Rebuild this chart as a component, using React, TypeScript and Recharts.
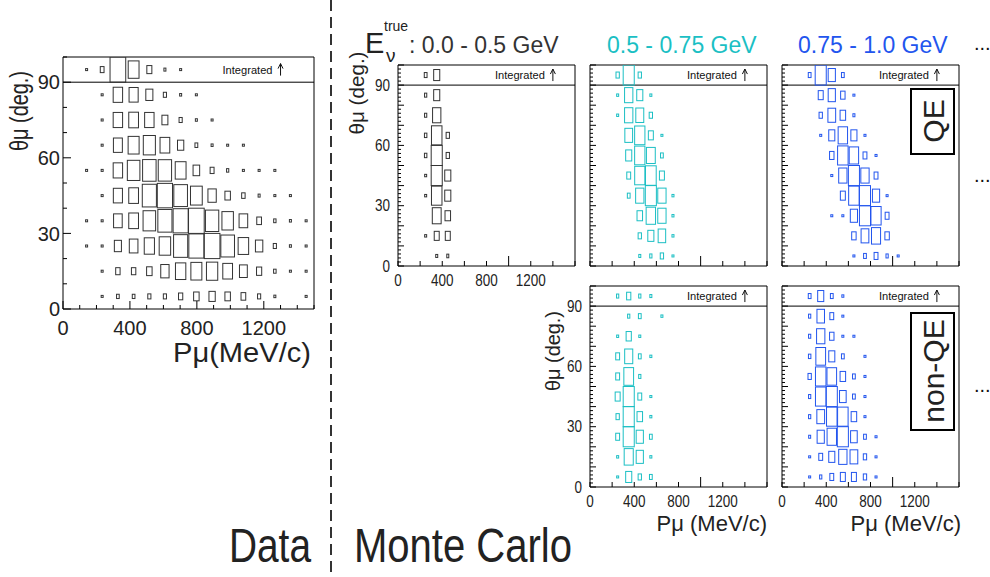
import React from "react";
import { ScatterChart, Scatter, XAxis, YAxis, ReferenceLine, ReferenceArea, ReferenceDot } from "recharts";

const FONT = '"Liberation Sans", Arial, Helvetica, sans-serif';
const BLACK = "#333";
const CYAN = "#1bbfc4";
const BLUE = "#2255ee";

// momentum bin centres (MeV/c)
const dataMomentum = [47, 141, 234, 328, 422, 516, 609, 703, 797, 891, 984, 1078, 1172, 1266, 1359, 1453];
const mcMomentum = [50, 150, 250, 350, 450, 550, 650, 750, 850, 950, 1050];
// angle bin centres (deg), the last one is the "Integrated" row
const thetaBins = [5, 15, 25, 35, 45, 55, 65, 75, 85, 95];

// box size in % of the bin, rows follow thetaBins
const dataCounts = [
  [0, 0, 6, 17, 17, 20, 20, 27, 35, 40, 35, 30, 20, 10, 0, 5],
  [0, 0, 8, 28, 28, 35, 53, 66, 70, 72, 62, 50, 33, 16, 8, 6],
  [0, 3, 8, 45, 55, 65, 73, 90, 96, 100, 87, 67, 47, 20, 10, 8],
  [0, 3, 8, 55, 62, 80, 90, 96, 100, 85, 73, 55, 30, 15, 10, 7],
  [0, 0, 8, 58, 62, 90, 97, 87, 75, 53, 35, 22, 12, 8, 5, 0],
  [0, 3, 8, 60, 80, 86, 85, 69, 42, 25, 14, 8, 7, 5, 0, 0],
  [0, 0, 8, 57, 70, 77, 62, 40, 18, 10, 6, 5, 0, 0, 0, 0],
  [0, 0, 8, 60, 62, 60, 38, 20, 10, 6, 0, 0, 0, 0, 0, 0],
  [0, 0, 8, 60, 58, 45, 20, 10, 7, 0, 0, 0, 0, 0, 0, 0],
  [0, 5, 24, 100, 69, 32, 12, 6, 0, 0, 0, 0, 0, 0, 0, 0],
];

const qeLowCounts = [
  [0, 0, 0, 15, 18],
  [0, 0, 12, 45, 45],
  [0, 0, 0, 80, 50],
  [0, 0, 12, 95, 55],
  [0, 0, 12, 100, 55],
  [0, 0, 22, 100, 30],
  [0, 0, 22, 95, 30],
  [0, 0, 20, 75, 0],
  [0, 0, 20, 55, 0],
  [0, 0, 25, 55, 0],
];

const qeMidCounts = [
  [0, 0, 0, 0, 15, 20, 30, 10],
  [0, 0, 0, 0, 30, 55, 68, 12],
  [0, 0, 0, 0, 50, 85, 75, 12],
  [0, 0, 0, 25, 75, 100, 75, 12],
  [0, 0, 0, 35, 92, 97, 45, 0],
  [0, 0, 0, 55, 93, 80, 25, 0],
  [0, 0, 0, 70, 93, 45, 10, 0],
  [0, 0, 12, 75, 72, 30, 0, 0],
  [0, 0, 12, 75, 55, 12, 0, 0],
  [0, 0, 30, 100, 30, 0, 0, 0],
];

const qeHighCounts = [
  [0, 0, 0, 0, 0, 0, 10, 25, 35, 20, 6],
  [0, 0, 0, 0, 0, 0, 40, 70, 82, 40, 0],
  [0, 0, 0, 0, 5, 5, 65, 100, 92, 35, 0],
  [0, 0, 0, 0, 0, 45, 95, 100, 65, 10, 0],
  [0, 0, 0, 0, 10, 75, 100, 75, 35, 0, 0],
  [0, 0, 0, 0, 40, 95, 85, 35, 5, 0, 0],
  [0, 0, 0, 10, 55, 85, 55, 10, 0, 0, 0],
  [0, 0, 0, 30, 70, 50, 15, 0, 0, 0, 0],
  [0, 0, 0, 45, 65, 40, 8, 0, 0, 0, 0],
  [0, 0, 25, 100, 65, 25, 0, 0, 0, 0, 0],
];

const nonQeMidCounts = [
  [0, 0, 8, 55, 30, 25, 0],
  [0, 0, 12, 82, 65, 12, 0],
  [0, 0, 35, 100, 65, 25, 0],
  [0, 0, 30, 100, 50, 12, 0],
  [0, 0, 45, 100, 35, 10, 0],
  [0, 0, 35, 88, 20, 0, 0],
  [0, 0, 35, 73, 25, 12, 0],
  [0, 0, 12, 47, 12, 0, 0],
  [0, 0, 0, 20, 25, 0, 12],
  [0, 0, 20, 38, 20, 15, 0],
];

const nonQeHighCounts = [
  [0, 0, 6, 20, 35, 45, 45, 30, 10],
  [0, 0, 10, 35, 55, 75, 70, 30, 10],
  [0, 0, 15, 65, 85, 100, 60, 25, 10],
  [0, 0, 20, 70, 95, 95, 50, 10, 0],
  [0, 0, 20, 95, 100, 60, 25, 8, 0],
  [0, 0, 30, 95, 87, 50, 25, 10, 0],
  [0, 0, 22, 88, 55, 25, 0, 10, 0],
  [0, 0, 20, 75, 40, 10, 10, 0, 0],
  [0, 0, 20, 68, 35, 5, 0, 0, 0],
  [0, 0, 25, 55, 25, 12, 0, 0, 0],
];

// tick labels
const momentumLabels = [0, 400, 800, 1200];
const thetaLabels = [0, 30, 60, 90];

const range = (a: number, b: number, s: number) => {
  const out: number[] = [];
  for (let v = a; v <= b; v += s) out.push(v);
  return out;
};

const ML = 50, MT = 4, MR = 4, MB = 34;

type AxisStyle = {
  xMax: number; binW: number; xTicks: number[]; xMajor: number[];
  xMinorLen: number; xMajorLen: number; yTicks: number[]; yMajor: number[];
  yMinorLen: number; yMajorLen: number; font: number; digit: number;
  xDy: number; yGap: number; tagX: number;
};

const dataAxes: AxisStyle = {
  xMax: 1500, binW: 93.75, xTicks: range(0, 1500, 100), xMajor: momentumLabels,
  xMinorLen: 4, xMajorLen: 8, yTicks: range(0, 100, 10), yMajor: thetaLabels,
  yMinorLen: 4, yMajorLen: 8, font: 20, digit: 0, xDy: 26, yGap: 3, tagX: 1300,
};

const mcAxes: AxisStyle = {
  xMax: 1600, binW: 100, xTicks: range(0, 1600, 200), xMajor: [1000],
  xMinorLen: 5, xMajorLen: 10, yTicks: range(0, 100, 2), yMajor: range(0, 100, 10),
  yMinorLen: 3, yMajorLen: 6, font: 16, digit: 7.5, xDy: 20, yGap: 8, tagX: 1400,
};

type PanelProps = {
  left: number; top: number; plotW: number; plotH: number;
  momentum: number[]; counts: number[][]; color: string; axes: AxisStyle;
  showX: boolean; showY: boolean;
};

function Panel({ left, top, plotW, plotH, momentum, counts, color, axes, showX, showY }: PanelProps) {
  const bwPx = (plotW * axes.binW) / axes.xMax;
  const bhPx = (plotH * 10) / 100;
  const points: { p: number; theta: number; v: number }[] = [];
  counts.forEach((row, i) =>
    row.forEach((v, k) => {
      if (v > 0) points.push({ p: momentum[k], theta: thetaBins[i], v });
    })
  );

  const box = (s: any) => {
    const f = s.payload.v / 100;
    const w = Math.max(2, f * bwPx);
    const h = Math.max(2, f * bhPx);
    return <rect x={s.cx - w / 2} y={s.cy - h / 2} width={w} height={h} fill="none" stroke={color} strokeWidth={1} />;
  };

  const label = (v: number, x: number, y: number, anchor: "middle" | "end") => {
    const s = String(v);
    const extra = axes.digit ? { textLength: s.length * axes.digit, lengthAdjust: "spacingAndGlyphs" } : {};
    return (
      <text x={x} y={y} textAnchor={anchor} fontSize={axes.font} fontFamily={FONT} fill="#222" {...extra}>
        {s}
      </text>
    );
  };

  const xTick = (t: any) => {
    const v = t.payload.value;
    const len = axes.xMajor.includes(v) ? axes.xMajorLen : axes.xMinorLen;
    return (
      <g>
        <line x1={t.x} x2={t.x} y1={t.y} y2={t.y - len} stroke="#000" />
        {showX && momentumLabels.includes(v) && label(v, t.x, t.y + axes.xDy, "middle")}
      </g>
    );
  };

  const yTick = (t: any) => {
    const v = t.payload.value;
    const len = axes.yMajor.includes(v) ? axes.yMajorLen : axes.yMinorLen;
    return (
      <g>
        <line x1={t.x} x2={t.x + len} y1={t.y} y2={t.y} stroke="#000" />
        {showY && thetaLabels.includes(v) && label(v, t.x - axes.yGap, t.y + axes.font * 0.36, "end")}
      </g>
    );
  };

  const tag = (s: any) => (
    <g>
      <text x={s.cx - 8} y={s.cy + 4} textAnchor="end" fontSize={11} fontFamily={FONT} fill="#111"
        textLength={50} lengthAdjust="spacingAndGlyphs">Integrated</text>
      <path d={`M${s.cx},${s.cy + 6}L${s.cx},${s.cy - 6}M${s.cx - 2.5},${s.cy - 1}L${s.cx},${s.cy - 6}L${s.cx + 2.5},${s.cy - 1}`}
        stroke="#111" fill="none" strokeWidth={1} />
    </g>
  );

  return (
    <div style={{ position: "absolute", left: left - ML, top: top - MT }}>
      <ScatterChart width={plotW + ML + MR} height={plotH + MT + MB} margin={{ top: MT, right: MR, left: 0, bottom: 0 }}>
        <XAxis type="number" dataKey="p" domain={[0, axes.xMax]} ticks={axes.xTicks} interval={0} height={MB}
          tickSize={0} tickMargin={0} axisLine={false} tickLine={false} tick={xTick} allowDataOverflow />
        <YAxis type="number" dataKey="theta" domain={[0, 100]} ticks={axes.yTicks} interval={0} width={ML}
          tickSize={0} tickMargin={0} axisLine={false} tickLine={false} tick={yTick} allowDataOverflow />
        <ReferenceArea x1={0} x2={axes.xMax} y1={0} y2={100} fill="none" fillOpacity={0} stroke="#000" strokeOpacity={1} />
        <ReferenceLine y={90} stroke="#000" strokeWidth={1} />
        <Scatter data={points} shape={box} isAnimationActive={false} />
        <ReferenceDot x={axes.tagX} y={95} r={0} shape={tag} />
      </ScatterChart>
    </div>
  );
}

const rotated = (text: string, cx: number, cy: number, size: number, len?: number) => (
  <text x={cx} y={cy} transform={`rotate(-90 ${cx} ${cy})`} textAnchor="middle" dominantBaseline="central"
    fontSize={size} fontFamily={FONT} fill="#222" {...(len ? { textLength: len, lengthAdjust: "spacingAndGlyphs" } : {})}>
    {text}
  </text>
);

export default function App() {
  return (
    <div style={{ position: "absolute", left: 0, top: 0, width: 990, height: 577, background: "#fff", overflow: "hidden" }}>
      <Panel left={63} top={57} plotW={251} plotH={252} momentum={dataMomentum} counts={dataCounts} color={BLACK} axes={dataAxes} showX showY />
      <Panel left={398} top={65} plotW={177} plotH={201} momentum={mcMomentum} counts={qeLowCounts} color={BLACK} axes={mcAxes} showX showY />
      <Panel left={590} top={65} plotW={177} plotH={201} momentum={mcMomentum} counts={qeMidCounts} color={CYAN} axes={mcAxes} showX={false} showY={false} />
      <Panel left={782} top={65} plotW={177} plotH={201} momentum={mcMomentum} counts={qeHighCounts} color={BLUE} axes={mcAxes} showX={false} showY={false} />
      <Panel left={590} top={286} plotW={177} plotH={201} momentum={mcMomentum} counts={nonQeMidCounts} color={CYAN} axes={mcAxes} showX showY />
      <Panel left={782} top={286} plotW={177} plotH={201} momentum={mcMomentum} counts={nonQeHighCounts} color={BLUE} axes={mcAxes} showX showY={false} />

      <svg width={990} height={577} style={{ position: "absolute", left: 0, top: 0, pointerEvents: "none" }}>
        <line x1={331} x2={331} y1={0} y2={577} stroke="#333" strokeWidth={2} strokeDasharray="11 6" />

        {rotated("θμ (deg.)", 19, 111, 26, 80)}
        {rotated("θμ (deg.)", 356, 93, 21, 83)}
        {rotated("θμ (deg.)", 552, 351, 21, 80)}

        <text x={311} y={362} textAnchor="end" fontSize={27} fontFamily={FONT} fill="#222" textLength={138} lengthAdjust="spacingAndGlyphs">Pμ(MeV/c)</text>
        <text x={767} y={531} textAnchor="end" fontSize={22} fontFamily={FONT} fill="#222">Pμ (MeV/c)</text>
        <text x={961} y={531} textAnchor="end" fontSize={22} fontFamily={FONT} fill="#222">Pμ (MeV/c)</text>

        <text x={365} y={53} fontSize={29} fontFamily={FONT} fill="#222">E</text>
        <text x={384} y={31} fontSize={14} fontFamily={FONT} fill="#222">true</text>
        <text x={386} y={62} fontSize={19} fontFamily={FONT} fill="#222">ν</text>
        <text x={409} y={53} fontSize={23} fontFamily={FONT} fill="#333">: 0.0 - 0.5 GeV</text>
        <text x={607} y={53} fontSize={23} fontFamily={FONT} fill={CYAN}>0.5 - 0.75 GeV</text>
        <text x={798} y={53} fontSize={23} fontFamily={FONT} fill={BLUE}>0.75 - 1.0 GeV</text>

        <text x={974} y={50} fontSize={20} fontFamily={FONT} fill="#111">...</text>
        <text x={974} y={182} fontSize={20} fontFamily={FONT} fill="#111">...</text>
        <text x={974} y={392} fontSize={20} fontFamily={FONT} fill="#111">...</text>

        <rect x={911} y={89} width={43} height={65} fill="none" stroke="#000" strokeWidth={2} />
        {rotated("QE", 933, 121, 30)}
        <rect x={911} y={313} width={43} height={117} fill="none" stroke="#000" strokeWidth={2} />
        {rotated("non-QE", 933, 371, 30)}

        <text x={229} y={562} fontSize={48} fontFamily={FONT} fill="#222" textLength={82} lengthAdjust="spacingAndGlyphs">Data</text>
        <text x={354} y={562} fontSize={48} fontFamily={FONT} fill="#222" textLength={218} lengthAdjust="spacingAndGlyphs">Monte Carlo</text>
      </svg>
    </div>
  );
}
